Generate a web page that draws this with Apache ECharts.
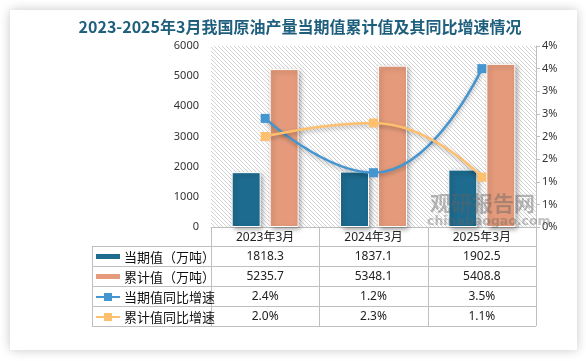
<!DOCTYPE html>
<html><head><meta charset="utf-8">
<script src="https://cdn.jsdelivr.net/npm/echarts@6/dist/echarts.min.js"></script>
<style>
html,body{margin:0;padding:0;background:#fff;width:586px;height:361px;overflow:hidden;}
#card{position:absolute;left:10px;top:10px;width:567px;height:340px;background:#fff;box-shadow:0 0 10px rgba(0,0,0,0.22);}
#chart{position:absolute;left:0;top:0;width:586px;height:361px;}
</style></head>
<body><div id="card"></div><div id="chart"></div>
<script>
const categories = ['2023年3月', '2024年3月', '2025年3月'];
const currentValues = [1818.3, 1837.1, 1902.5];
const cumulativeValues = [5235.7, 5348.1, 5408.8];
const currentGrowth = [2.4, 1.2, 3.5];
const cumulativeGrowth = [2.0, 2.3, 1.1];
const seriesNames = ['当期值（万吨）', '累计值（万吨）', '当期值同比增速', '累计值同比增速'];
const leftTicks = [0, 6000, 1000];
const rightTicks = [0, 4, 0.5];

const colors = ['#1d6b8f', '#e59b7b', '#4596d0', '#fec06f'];
const G = {left: 211, right: 536, top: 46, bottom: 227};
const font = '"Noto Sans","Noto Sans CJK SC",sans-serif';
const cjk = '"Noto Sans CJK SC",sans-serif';

// hatch pattern
const tile = document.createElement('canvas');
tile.width = 4; tile.height = 4;
const tctx = tile.getContext('2d');
tctx.fillStyle = '#ffffff'; tctx.fillRect(0,0,4,4);
tctx.fillStyle = '#d4d4d4';
for (let i = 0; i < 4; i++) tctx.fillRect(i, i, 1, 1);

const chart = echarts.init(document.getElementById('chart'));

function txt(x, y, text, size, family, color, align, weight, z) {
  return {type:'text', x, y, z: z || 10, silent:true,
    style:{text, fill:color, fontSize:size, fontFamily:family, fontWeight:weight || 'normal', align, verticalAlign:'middle'}};
}

// table graphics
const tbl = [];
const lineColor = '#bfbfbf';
const colW = (G.right - G.left) / categories.length;
const rowTop = [227, 246, 266, 286, 306, 326];
const legL = 92;
function hline(x1, x2, y){ tbl.push({type:'line', shape:{x1, y1:y+0.5, x2, y2:y+0.5}, style:{stroke:lineColor, lineWidth:1}, silent:true}); }
function vline(x, y1, y2){ tbl.push({type:'line', shape:{x1:x+0.5, y1, x2:x+0.5, y2}, style:{stroke:lineColor, lineWidth:1}, silent:true}); }
hline(G.left, G.right, rowTop[0]);
for (let r = 1; r < rowTop.length; r++) hline(legL, G.right, rowTop[r]);
vline(legL, rowTop[1], rowTop[5]);
for (let c = 0; c <= categories.length; c++) vline(Math.round(G.left + c*colW), rowTop[0], rowTop[5]);
categories.forEach((cat, i) => {
  tbl.push(txt(G.left + (i+0.5)*colW, (rowTop[0]+rowTop[1])/2+1, cat, 12, font, '#222', 'center'));
});
const rowsData = [
  currentValues.map(v=>v.toFixed(1)),
  cumulativeValues.map(v=>v.toFixed(1)),
  currentGrowth.map(v=>v.toFixed(1)+'%'),
  cumulativeGrowth.map(v=>v.toFixed(1)+'%')
];
rowsData.forEach((row, r) => {
  const yc = (rowTop[r+1] + rowTop[r+2]) / 2 + 1;
  row.forEach((t, i) => {
    tbl.push(txt(G.left + (i+0.5)*colW, yc, t, 12, font, '#222', 'center'));
  });
  if (r < 2) {
    tbl.push({type:'rect', shape:{x:96, y:yc-3, width:24, height:5}, style:{fill:colors[r]}});
  } else {
    tbl.push({type:'line', shape:{x1:96, y1:yc, x2:120, y2:yc}, style:{stroke:colors[r], lineWidth:2}});
    tbl.push({type:'rect', shape:{x:104, y:yc-4, width:8, height:8}, style:{fill:colors[r]}});
  }
  tbl.push(txt(124, yc, seriesNames[r], 13, cjk, '#111', 'left'));
});

const graphics = [
  {type:'rect', z:-10, shape:{x:G.left, y:G.top, width:G.right-G.left, height:G.bottom-G.top}, style:{fill:{image:tile, repeat:'repeat'}}, silent:true},
  txt(300, 27, '2023-2025年3月我国原油产量当期值累计值及其同比增速情况', 16, cjk, '#1f5f7e', 'center', 'bold'),
  txt(430, 203, '观研报告网', 21, cjk, 'rgba(100,100,100,0.45)', 'left', 'bold', 100),
  txt(427, 222, 'chinabaogao.com', 12.5, 'Verdana,"DejaVu Sans",sans-serif', 'rgba(100,100,100,0.4)', 'left', 'bold', 100),
  ...tbl
];

const shadow = {shadowBlur:5, shadowColor:'rgba(0,0,0,0.35)', shadowOffsetX:2, shadowOffsetY:2};

chart.setOption({
  animation:false,
  grid:{left:G.left, right:586-G.right, top:G.top, bottom:361-G.bottom},
  xAxis:{type:'category', data:categories, axisLine:{show:true, lineStyle:{color:lineColor}}, axisTick:{show:false}, axisLabel:{show:false}},
  yAxis:[
    {type:'value', min:leftTicks[0], max:leftTicks[1], interval:leftTicks[2], splitLine:{show:false}, axisLine:{show:false}, axisTick:{show:false},
     axisLabel:{color:'#333', fontSize:11, fontFamily:font, margin:12, formatter:v=>String(v)}},
    {type:'value', min:rightTicks[0], max:rightTicks[1], interval:rightTicks[2], splitLine:{show:false},
     axisLine:{show:true, lineStyle:{color:'#bfbfbf'}}, axisTick:{show:true, length:4, lineStyle:{color:'#bfbfbf'}},
     axisLabel:{color:'#333', fontSize:11, fontFamily:font, margin:6, formatter:v=>Math.round(v)+'%'}}
  ],
  series:[
    {name:seriesNames[0], type:'bar', data:currentValues, barWidth:29, barGap:'31%', itemStyle:Object.assign({color:colors[0], borderColor:'#fff', borderWidth:1}, shadow)},
    {name:seriesNames[1], type:'bar', data:cumulativeValues, barWidth:29, itemStyle:Object.assign({color:colors[1], borderColor:'#fff', borderWidth:1}, shadow)},
    {name:seriesNames[2], type:'line', yAxisIndex:1, data:currentGrowth, smooth:0.5, symbol:'rect', symbolSize:9, z:5,
     lineStyle:{color:colors[2], width:2.5, shadowBlur:4, shadowColor:'rgba(0,0,0,0.3)', shadowOffsetY:2}, itemStyle:{color:colors[2]}},
    {name:seriesNames[3], type:'line', yAxisIndex:1, data:cumulativeGrowth, smooth:0.5, symbol:'rect', symbolSize:9, z:5,
     lineStyle:{color:colors[3], width:2.5, shadowBlur:4, shadowColor:'rgba(0,0,0,0.3)', shadowOffsetY:2}, itemStyle:{color:colors[3]}}
  ],
  graphic:graphics
});
</script></body></html>
